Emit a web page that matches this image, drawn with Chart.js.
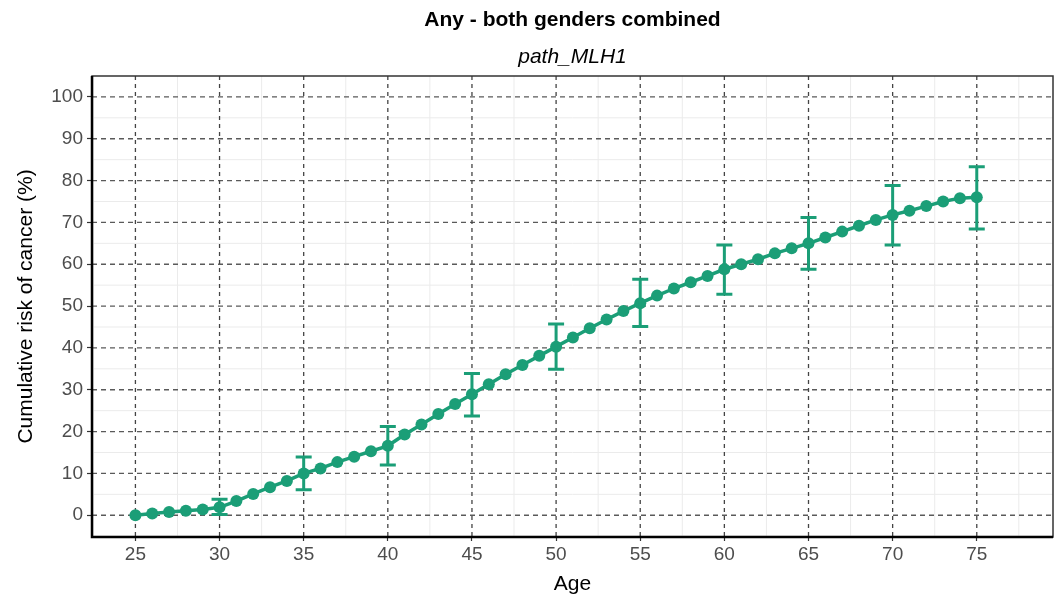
<!DOCTYPE html>
<html>
<head>
<meta charset="utf-8">
<script src="https://cdn.jsdelivr.net/npm/chart.js@4"></script>
<style>
html, body { margin: 0; padding: 0; background: #fff; }
</style>
</head>
<body>
<canvas id="riskChart" width="1059" height="595"></canvas>
<script>
// cumulative risk by age
const ages = [25, 26, 27, 28, 29, 30, 31, 32, 33, 34, 35, 36, 37, 38, 39, 40, 41, 42, 43, 44, 45,
    46, 47, 48, 49, 50, 51, 52, 53, 54, 55, 56, 57, 58, 59, 60, 61, 62, 63, 64, 65,
    66, 67, 68, 69, 70, 71, 72, 73, 74, 75];
const risk = [0, 0.4, 0.8, 1.1, 1.4, 1.9, 3.4, 5.1, 6.7, 8.2, 10.0, 11.2, 12.7, 14.0, 15.3, 16.6, 19.3, 21.7, 24.2, 26.6, 28.9,
    31.3, 33.7, 35.9, 38.1, 40.3, 42.5, 44.7, 46.8, 48.8, 50.7, 52.5, 54.2, 55.7, 57.2, 58.8, 60.0, 61.2, 62.6, 63.8, 65.0,
    66.4, 67.8, 69.2, 70.6, 71.8, 72.8, 73.9, 75.0, 75.8, 76.0];

// confidence intervals every 5 years
const ciAges = [30, 35, 40, 45, 50, 55, 60, 65, 70, 75];
const ciLower = [0.2, 6.1, 12.0, 23.7, 34.9, 45.1, 52.8, 58.8, 64.6, 68.4];
const ciUpper = [3.8, 13.9, 21.2, 33.9, 45.7, 56.4, 64.6, 71.2, 78.8, 83.3];

const xTicks = [25, 30, 35, 40, 45, 50, 55, 60, 65, 70, 75];
const yTicks = [0, 10, 20, 30, 40, 50, 60, 70, 80, 90, 100];

const green = '#1b9e77';
const fontFamily = '"Liberation Sans", Arial, sans-serif';

// gridlines + panel border, drawn behind the data
const panelPlugin = {
    id: 'panel',
    beforeDatasetsDraw(chart) {
        const { ctx, chartArea: a, scales: { x, y } } = chart;
        ctx.save();
        // minor grid
        ctx.strokeStyle = '#ebebeb';
        ctx.lineWidth = 1;
        for (let v = 22.5; v < x.max; v += 5) {
            const px = x.getPixelForValue(v);
            if (px <= a.left || px >= a.right) continue;
            ctx.beginPath(); ctx.moveTo(px, a.top); ctx.lineTo(px, a.bottom); ctx.stroke();
        }
        for (let v = -5; v < y.max; v += 10) {
            const py = y.getPixelForValue(v);
            if (py <= a.top || py >= a.bottom) continue;
            ctx.beginPath(); ctx.moveTo(a.left, py); ctx.lineTo(a.right, py); ctx.stroke();
        }
        // major grid, dashed
        ctx.strokeStyle = '#5a5a5a';
        ctx.lineWidth = 1.3;
        ctx.setLineDash([5, 4]);
        yTicks.forEach(v => {
            const py = y.getPixelForValue(v);
            ctx.beginPath(); ctx.moveTo(a.left, py); ctx.lineTo(a.right, py); ctx.stroke();
        });
        ctx.strokeStyle = '#444';
        ctx.setLineDash([4, 4]);
        xTicks.forEach(v => {
            const px = x.getPixelForValue(v);
            ctx.beginPath(); ctx.moveTo(px, a.top); ctx.lineTo(px, a.bottom); ctx.stroke();
        });
        ctx.setLineDash([]);
        // border
        ctx.strokeStyle = '#333';
        ctx.lineWidth = 1.5;
        ctx.strokeRect(a.left, a.top, a.right - a.left, a.bottom - a.top);
        ctx.strokeStyle = '#000';
        ctx.lineWidth = 2.5;
        ctx.beginPath();
        ctx.moveTo(a.left, a.top);
        ctx.lineTo(a.left, a.bottom);
        ctx.lineTo(a.right, a.bottom);
        ctx.stroke();
        ctx.restore();
    }
};

// error bars at the CI ages
const errorBarPlugin = {
    id: 'errorBars',
    afterDatasetsDraw(chart) {
        const { ctx, scales: { x, y } } = chart;
        ctx.save();
        ctx.strokeStyle = green;
        ctx.lineWidth = 3;
        ciAges.forEach((age, i) => {
            const px = x.getPixelForValue(age);
            const lo = y.getPixelForValue(ciLower[i]);
            const hi = y.getPixelForValue(ciUpper[i]);
            ctx.beginPath();
            ctx.moveTo(px, lo); ctx.lineTo(px, hi);
            ctx.moveTo(px - 8, lo); ctx.lineTo(px + 8, lo);
            ctx.moveTo(px - 8, hi); ctx.lineTo(px + 8, hi);
            ctx.stroke();
        });
        ctx.restore();
    }
};

const ctx1 = document.getElementById('riskChart').getContext('2d');
new Chart(ctx1, {
    type: 'line',
    data: {
        datasets: [{
            data: ages.map((a, i) => ({ x: a, y: risk[i] })),
            borderColor: green,
            backgroundColor: green,
            borderWidth: 3.5,
            pointRadius: 6,
            pointBorderWidth: 0,
            pointBackgroundColor: green,
            tension: 0
        }]
    },
    options: {
        responsive: false,
        animation: false,
        layout: { padding: { left: 4, right: 5, top: 0, bottom: 0 } },
        plugins: {
            legend: { display: false },
            tooltip: { enabled: false },
            title: {
                display: true,
                fullSize: false,
                text: 'Any - both genders combined',
                color: '#000',
                font: { family: fontFamily, size: 21, weight: 'bold' },
                padding: { top: 8, bottom: 0 }
            },
            subtitle: {
                display: true,
                fullSize: false,
                text: 'path_MLH1',
                color: '#000',
                font: { family: fontFamily, size: 21, style: 'italic' },
                padding: { top: 11, bottom: 6.6 }
            }
        },
        scales: {
            x: {
                type: 'linear',
                min: 22.42,
                max: 79.53,
                afterBuildTicks: s => { s.ticks = xTicks.map(v => ({ value: v })); },
                afterFit: s => { s.height = 58; },
                grid: { drawOnChartArea: false, drawTicks: true, tickLength: 4, tickColor: '#333', tickWidth: 1.2 },
                border: { display: false },
                ticks: { color: '#4d4d4d', font: { family: fontFamily, size: 19 }, padding: 2, maxRotation: 0 },
                title: {
                    display: true, text: 'Age', color: '#000',
                    font: { family: fontFamily, size: 21, lineHeight: 1 },
                    padding: { top: 0, bottom: 0 }
                }
            },
            y: {
                type: 'linear',
                min: -5.2,
                max: 105,
                afterBuildTicks: s => { s.ticks = yTicks.map(v => ({ value: v })); },
                afterFit: s => { s.width = 88; },
                grid: { drawOnChartArea: false, drawTicks: true, tickLength: 5, tickColor: '#333', tickWidth: 1.2 },
                border: { display: false },
                ticks: { color: '#4d4d4d', font: { family: fontFamily, size: 19 }, padding: 4 },
                title: {
                    display: true, text: 'Cumulative risk of cancer (%)', color: '#000',
                    font: { family: fontFamily, size: 21 },
                    padding: { top: 10, bottom: 0 }
                }
            }
        }
    },
    plugins: [panelPlugin, errorBarPlugin]
});
</script>
</body>
</html>
